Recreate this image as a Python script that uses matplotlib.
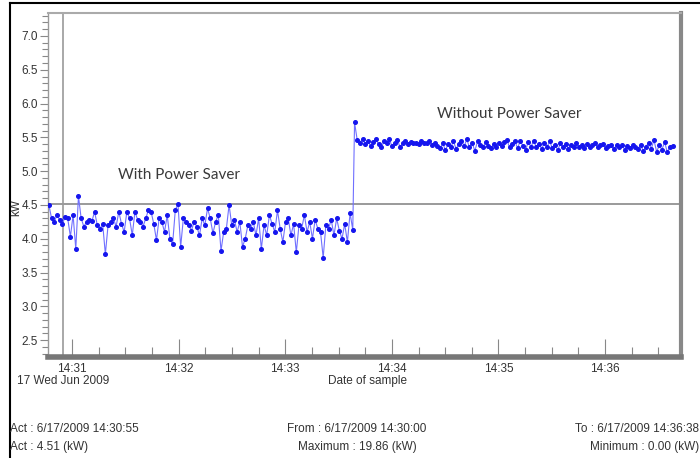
import matplotlib
matplotlib.use("Agg")
import matplotlib.pyplot as plt
import matplotlib.dates as mdates
from matplotlib.lines import Line2D
from matplotlib.ticker import MultipleLocator
from datetime import datetime

# ---------------- data ----------------
with_saver_start = datetime(2009, 6, 17, 14, 30, 47)
with_saver_end = datetime(2009, 6, 17, 14, 33, 38)
with_saver_kw = [
    4.50, 4.30, 4.25, 4.35, 4.28, 4.22, 4.32, 4.30, 4.03, 4.35, 3.85, 4.63,
    4.30, 4.18, 4.25, 4.28, 4.26, 4.40, 4.20, 4.15, 4.22, 3.77, 4.20, 4.25,
    4.30, 4.18, 4.40, 4.22, 4.10, 4.40, 4.30, 4.05, 4.40, 4.28, 4.25, 4.18,
    4.30, 4.42, 4.40, 4.22, 3.98, 4.30, 4.25, 4.10, 4.35, 4.00, 3.92, 4.42,
    4.52, 3.88, 4.30, 4.25, 4.20, 4.12, 4.25, 4.18, 4.05, 4.30, 4.20, 4.45,
    4.30, 4.08, 4.25, 4.35, 3.82, 4.10, 4.15, 4.50, 4.20, 4.28, 4.10, 4.25,
    3.88, 4.00, 4.20, 4.15, 4.25, 4.05, 4.30, 3.85, 4.20, 4.05, 4.35, 4.22,
    4.10, 4.42, 4.15, 3.95, 4.25, 4.30, 4.05, 4.22, 3.80, 4.20, 4.15, 4.35,
    4.10, 4.25, 4.00, 4.28, 4.15, 4.10, 3.72, 4.20, 4.15, 4.28, 4.05, 4.30,
    4.12, 4.00, 4.22, 3.95, 4.38, 4.13,
]
without_saver_start = datetime(2009, 6, 17, 14, 33, 39)
without_saver_end = datetime(2009, 6, 17, 14, 36, 38)
without_saver_kw = [
    5.72, 5.46, 5.42, 5.48, 5.40, 5.45, 5.37, 5.43, 5.47, 5.40, 5.35, 5.44,
    5.41, 5.47, 5.37, 5.42, 5.46, 5.36, 5.41, 5.45, 5.40, 5.43, 5.41, 5.42,
    5.40, 5.44, 5.41, 5.42, 5.45, 5.39, 5.42, 5.37, 5.34, 5.41, 5.31, 5.40,
    5.36, 5.44, 5.33, 5.40, 5.45, 5.37, 5.47, 5.35, 5.42, 5.30, 5.44, 5.39,
    5.35, 5.43, 5.37, 5.34, 5.40, 5.36, 5.42, 5.37, 5.43, 5.46, 5.35, 5.40,
    5.44, 5.34, 5.45, 5.37, 5.32, 5.43, 5.36, 5.45, 5.35, 5.40, 5.33, 5.42,
    5.36, 5.44, 5.34, 5.39, 5.31, 5.41, 5.35, 5.40, 5.33, 5.39, 5.36, 5.42,
    5.35, 5.38, 5.34, 5.40, 5.36, 5.39, 5.42, 5.35, 5.38, 5.40, 5.34, 5.37,
    5.39, 5.33, 5.38, 5.35, 5.39, 5.32, 5.37, 5.34, 5.38, 5.35, 5.33, 5.39,
    5.30, 5.36, 5.42, 5.33, 5.46, 5.29, 5.38, 5.32, 5.43, 5.28, 5.36, 5.37,
]
cursor_time = datetime(2009, 6, 17, 14, 30, 55)
cursor_kw = 4.51
x_min = datetime(2009, 6, 17, 14, 30, 46, 500000)
x_max = datetime(2009, 6, 17, 14, 36, 42, 700000)
y_min, y_max = 2.25, 7.34
yticks = [2.5, 3.0, 3.5, 4.0, 4.5, 5.0, 5.5, 6.0, 6.5, 7.0]
label_with = "With Power Saver"
label_without = "Without Power Saver"
info_left = ["Act : 6/17/2009 14:30:55", "Act : 4.51 (kW)"]
info_mid = ["From : 6/17/2009 14:30:00", "Maximum : 19.86 (kW)"]
info_right = ["To : 6/17/2009 14:36:38", "Minimum : 0.00 (kW)"]


def sample_times(start, end, n):
    step = (end - start) / (n - 1)
    return [start + i * step for i in range(n)]


t_with = sample_times(with_saver_start, with_saver_end, len(with_saver_kw))
t_without = sample_times(without_saver_start, without_saver_end, len(without_saver_kw))
times = t_with + t_without
values = with_saver_kw + without_saver_kw

# ---------------- figure ----------------
W, H = 700, 458
fig = plt.figure(figsize=(W / 100, H / 100), dpi=100)
fig.patch.set_facecolor("white")

tick_font = ["Liberation Sans", "DejaVu Sans"]
txt_color = "#333333"
fs = 8.5

left_px, right_px, top_px, bot_px = 48, 681, 13, 357
ax = fig.add_axes([left_px / W, 1 - bot_px / H, (right_px - left_px) / W, (bot_px - top_px) / H])

ax.plot(times, values, color="#7070ff", lw=0.8, marker="o", ms=2.6,
        mfc="#1515ee", mec="#1515ee", zorder=3)

ax.axhline(cursor_kw, color="#9a9a9a", lw=1.4, zorder=2)
ax.axvline(cursor_time, color="#9a9a9a", lw=1.2, zorder=2)

ax.set_xlim(x_min, x_max)
ax.set_ylim(y_min, y_max)

ax.xaxis.set_major_locator(mdates.MinuteLocator())
ax.xaxis.set_minor_locator(mdates.SecondLocator(bysecond=[15, 30, 45]))
ax.xaxis.set_major_formatter(mdates.DateFormatter("%H:%M"))
ax.set_yticks(yticks)
ax.yaxis.set_minor_locator(MultipleLocator(0.1))

ax.tick_params(axis="y", which="major", direction="out", length=6, width=0.8,
               color="#888888", labelsize=fs, labelcolor=txt_color, pad=1)
ax.tick_params(axis="y", which="minor", direction="out", length=4, width=0.8, color="#888888")
ax.tick_params(axis="x", which="major", direction="in", length=13, width=0.8,
               color="#888888", labelsize=fs, labelcolor=txt_color, pad=4)
ax.tick_params(axis="x", which="minor", direction="in", length=7, width=0.8, color="#888888")
for lab in ax.get_xticklabels() + ax.get_yticklabels():
    lab.set_family(tick_font)

ax.spines["top"].set_color("#aaaaaa")
ax.spines["top"].set_linewidth(1.5)
ax.spines["left"].set_color("#999999")
ax.spines["left"].set_linewidth(1.0)
ax.spines["right"].set_color("#888888")
ax.spines["right"].set_linewidth(3.0)
ax.spines["bottom"].set_color("#777777")
ax.spines["bottom"].set_linewidth(4.0)

ax.set_ylabel("kW", fontsize=fs, color=txt_color, family=tick_font)
ax.yaxis.set_label_coords((22 - left_px) / (right_px - left_px), (bot_px - 207) / (bot_px - top_px))

ax.text(datetime(2009, 6, 17, 14, 32, 0), 4.95, label_with, family=["Lato", "DejaVu Sans"],
        fontsize=11, color="#3a3a3a", ha="center", va="center")
ax.text(datetime(2009, 6, 17, 14, 35, 6), 5.85, label_without, family=["Lato", "DejaVu Sans"],
        fontsize=11, color="#3a3a3a", ha="center", va="center")

# ---------------- texts below the plot ----------------
def fy(px):
    return 1 - px / H

fig.text(17 / W, fy(381), "17 Wed Jun 2009", family=tick_font, fontsize=fs, color=txt_color, va="center")
fig.text(368 / W, fy(381), "Date of sample", family=tick_font, fontsize=fs, color=txt_color,
         va="center", ha="center")
for i, (a, b, c) in enumerate(zip(info_left, info_mid, info_right)):
    y = fy(429 + 18 * i)
    fig.text(10 / W, y, a, family=tick_font, fontsize=fs, color=txt_color, va="center")
    fig.text(357 / W, y, b, family=tick_font, fontsize=fs, color=txt_color, va="center", ha="center")
    fig.text(699 / W, y, c, family=tick_font, fontsize=fs, color=txt_color, va="center", ha="right")

# outer frame lines
fig.add_artist(Line2D([10 / W, 1], [fy(3), fy(3)], color="black", lw=1.5))
fig.add_artist(Line2D([10 / W, 10 / W], [0, fy(3)], color="black", lw=1.5))

fig.savefig("out.png", dpi=100, facecolor="white")
